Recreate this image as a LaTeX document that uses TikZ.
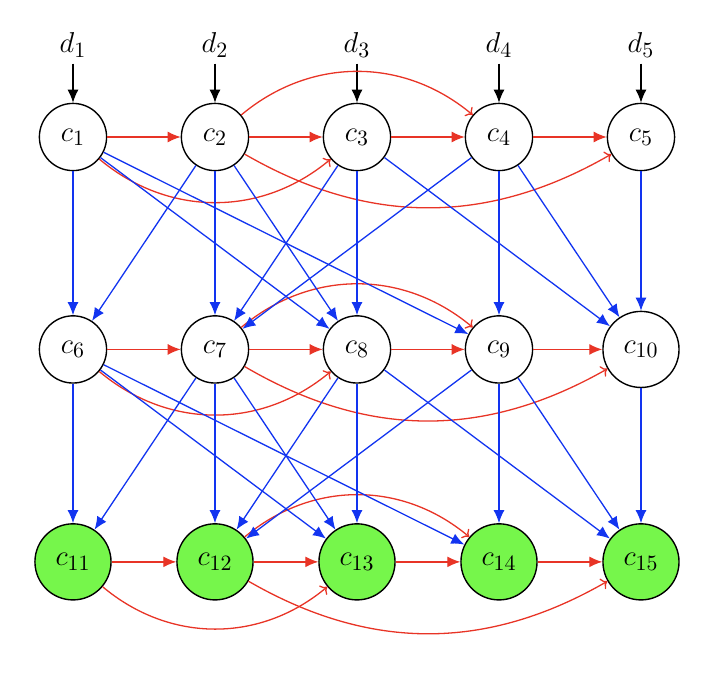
\documentclass[tikz,border=0pt]{standalone}
\usepackage{amsmath,amssymb}
\usetikzlibrary{positioning,calc}
\usetikzlibrary{arrows.meta}
\definecolor{EdgeRed}{RGB}{232,52,38}
\definecolor{EdgeBlue}{RGB}{18,52,240}
\definecolor{CellGreen}{RGB}{118,246,75}
\tikzset{
  cell/.style={circle,draw=black,fill=white,line width=0.7pt,inner sep=6.8pt,
    font=\fontsize{15}{18}\selectfont},
  done/.style={cell,fill=CellGreen},
  inp/.style={inner sep=3pt,font=\fontsize{15}{18}\selectfont},
  pass/.style={draw=black,line width=0.65pt,-{Latex[length=6.5pt,width=5.5pt]}},
  feed/.style={draw=EdgeBlue,line width=0.65pt,-{Latex[length=6.5pt,width=5.5pt]}},
  chain/.style={draw=EdgeRed,line width=0.65pt,-{Latex[length=6.5pt,width=5.5pt]}},
  skip/.style={draw=EdgeRed,line width=0.65pt,-{To[length=3pt,width=6pt]}},
}

\begin{document}
\begin{tikzpicture}
\useasboundingbox (-1.285,2.412) rectangle (11.444,-9.472);
% inputs
\node[inp] (d1) at (0,1.62) {$d_1$};
\node[inp] (d2) at (2.5,1.62) {$d_2$};
\node[inp] (d3) at (5,1.62) {$d_3$};
\node[inp] (d4) at (7.5,1.62) {$d_4$};
\node[inp] (d5) at (10,1.62) {$d_5$};
% cells
\node[cell] (c1) at (0,0) {$c_1$};
\node[cell] (c2) at (2.5,0) {$c_2$};
\node[cell] (c3) at (5,0) {$c_3$};
\node[cell] (c4) at (7.5,0) {$c_4$};
\node[cell] (c5) at (10,0) {$c_5$};
\node[cell] (c6) at (0,-3.74) {$c_6$};
\node[cell] (c7) at (2.5,-3.74) {$c_7$};
\node[cell] (c8) at (5,-3.74) {$c_8$};
\node[cell] (c9) at (7.5,-3.74) {$c_9$};
\node[cell] (c10) at (10,-3.74) {$c_{10}$};
\node[done] (c11) at (0,-7.48) {$c_{11}$};
\node[done] (c12) at (2.5,-7.48) {$c_{12}$};
\node[done] (c13) at (5,-7.48) {$c_{13}$};
\node[done] (c14) at (7.5,-7.48) {$c_{14}$};
\node[done] (c15) at (10,-7.48) {$c_{15}$};
% input arrows
\draw[pass] (d1) -- (c1);
\draw[pass] (d2) -- (c2);
\draw[pass] (d3) -- (c3);
\draw[pass] (d4) -- (c4);
\draw[pass] (d5) -- (c5);
% rows
\draw[chain] (c1) -- (c2);
\draw[chain] (c2) -- (c3);
\draw[chain] (c3) -- (c4);
\draw[chain] (c4) -- (c5);
\draw[chain] (c6) -- (c7);
\draw[chain] (c7) -- (c8);
\draw[chain] (c8) -- (c9);
\draw[chain] (c9) -- (c10);
\draw[chain] (c11) -- (c12);
\draw[chain] (c12) -- (c13);
\draw[chain] (c13) -- (c14);
\draw[chain] (c14) -- (c15);
% skips
\draw[skip] (c2) to[bend left=40] (c4);
\draw[skip] (c1) to[bend right=40] (c3);
\draw[skip] (c2) to[bend right=30] (c5);
\draw[skip] (c7) to[bend left=40] (c9);
\draw[skip] (c6) to[bend right=40] (c8);
\draw[skip] (c7) to[bend right=30] (c10);
\draw[skip] (c12) to[bend left=40] (c14);
\draw[skip] (c11) to[bend right=40] (c13);
\draw[skip] (c12) to[bend right=30] (c15);
% first layer
\draw[feed] (c1) -- (c6);
\draw[feed] (c1) -- (c8);
\draw[feed] (c1) -- (c9);
\draw[feed] (c2) -- (c6);
\draw[feed] (c2) -- (c7);
\draw[feed] (c2) -- (c8);
\draw[feed] (c3) -- (c7);
\draw[feed] (c3) -- (c8);
\draw[feed] (c3) -- (c10);
\draw[feed] (c4) -- (c7);
\draw[feed] (c4) -- (c9);
\draw[feed] (c4) -- (c10);
\draw[feed] (c5) -- (c10);
% second layer
\draw[feed] (c6) -- (c11);
\draw[feed] (c6) -- (c13);
\draw[feed] (c6) -- (c14);
\draw[feed] (c7) -- (c11);
\draw[feed] (c7) -- (c12);
\draw[feed] (c7) -- (c13);
\draw[feed] (c8) -- (c12);
\draw[feed] (c8) -- (c13);
\draw[feed] (c8) -- (c15);
\draw[feed] (c9) -- (c12);
\draw[feed] (c9) -- (c14);
\draw[feed] (c9) -- (c15);
\draw[feed] (c10) -- (c15);
\end{tikzpicture}
\end{document}
